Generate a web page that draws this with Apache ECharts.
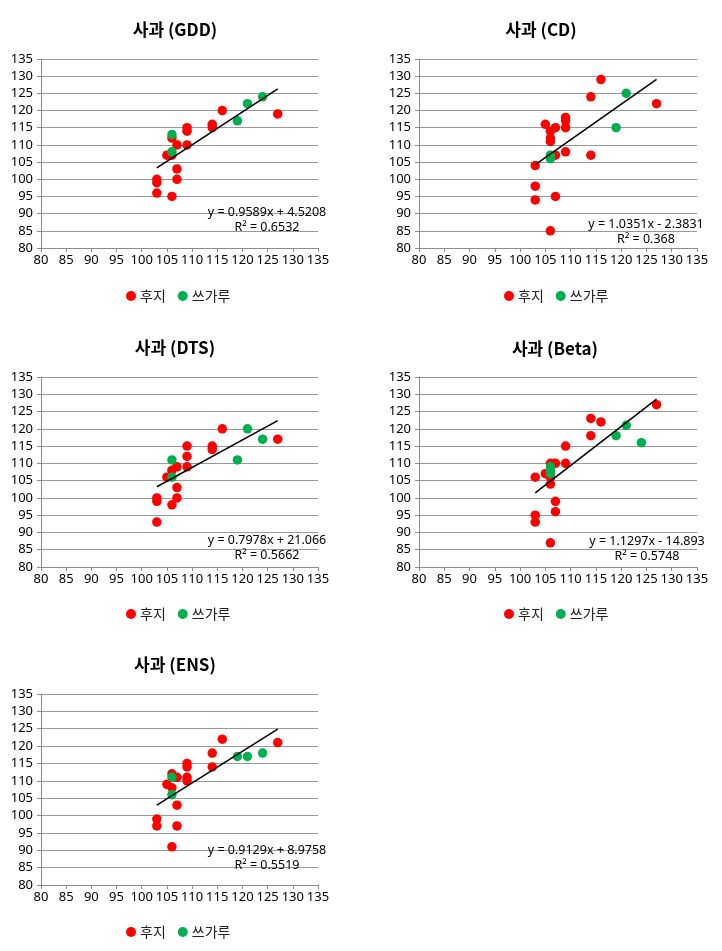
<!DOCTYPE html>
<html><head><meta charset="utf-8">
<script src="https://cdn.jsdelivr.net/npm/echarts@6/dist/echarts.min.js"></script>
<style>html,body{margin:0;padding:0;background:#fff}#c{width:722px;height:951px}</style>
</head><body><div id="c"></div>
<script>
// ---- Data ----
const panelTitles = ['사과 (GDD)', '사과 (CD)', '사과 (DTS)', '사과 (Beta)', '사과 (ENS)'];
const seriesNames = ['후지', '쓰가루'];
const axisTicks = [80, 85, 90, 95, 100, 105, 110, 115, 120, 125, 130, 135];

// GDD
const gddFujiX = [103, 103, 103, 105, 106, 106, 106, 107, 107, 107, 109, 109, 109, 114, 114, 116, 127];
const gddFujiY = [100, 99, 96, 107, 112, 107, 95, 110, 103, 100, 115, 114, 110, 116, 115, 120, 119];
const gddTsugX = [106, 106, 119, 121, 124];
const gddTsugY = [113, 108, 117, 122, 124];
const gddFit = [0.9589, 4.5208, 0.6532];

// CD
const cdFujiX = [103, 103, 103, 105, 106, 106, 106, 106, 107, 107, 107, 109, 109, 109, 109, 114, 114, 116, 127];
const cdFujiY = [104, 98, 94, 116, 114, 112, 111, 85, 115, 107, 95, 118, 117, 115, 108, 124, 107, 129, 122];
const cdTsugX = [106, 106, 119, 121];
const cdTsugY = [107, 106, 115, 125];
const cdFit = [1.0351, -2.3831, 0.368];

// DTS
const dtsFujiX = [103, 103, 103, 105, 106, 106, 107, 107, 107, 109, 109, 109, 114, 114, 116, 127];
const dtsFujiY = [100, 99, 93, 106, 108, 98, 109, 103, 100, 115, 112, 109, 115, 114, 120, 117];
const dtsTsugX = [106, 106, 119, 121, 124];
const dtsTsugY = [111, 106, 111, 120, 117];
const dtsFit = [0.7978, 21.066, 0.5662];

// Beta
const betaFujiX = [103, 103, 103, 105, 106, 106, 106, 106, 107, 107, 107, 109, 109, 114, 114, 116, 127];
const betaFujiY = [106, 95, 93, 107, 110, 106, 104, 87, 110, 99, 96, 115, 110, 123, 118, 122, 127];
const betaTsugX = [106, 106, 106, 119, 121, 124];
const betaTsugY = [109, 108, 107, 118, 121, 116];
const betaFit = [1.1297, -14.893, 0.5748];

// ENS
const ensFujiX = [103, 103, 105, 106, 106, 106, 107, 107, 107, 109, 109, 109, 109, 114, 114, 116, 127];
const ensFujiY = [99, 97, 109, 112, 108, 91, 111, 103, 97, 115, 114, 111, 110, 118, 114, 122, 121];
const ensTsugX = [106, 106, 119, 121, 124];
const ensTsugY = [111, 106, 117, 117, 118];
const ensFit = [0.9129, 8.9758, 0.5519];

const panelData = [
  [gddFujiX, gddFujiY, gddTsugX, gddTsugY, gddFit],
  [cdFujiX, cdFujiY, cdTsugX, cdTsugY, cdFit],
  [dtsFujiX, dtsFujiY, dtsTsugX, dtsTsugY, dtsFit],
  [betaFujiX, betaFujiY, betaTsugX, betaTsugY, betaFit],
  [ensFujiX, ensFujiY, ensTsugX, ensTsugY, ensFit]
];

// ---- Layout ----
const grids = [
  {left: 41, top: 59, width: 277, height: 189},
  {left: 419, top: 59, width: 278, height: 189},
  {left: 41, top: 377, width: 277, height: 190},
  {left: 419, top: 377, width: 278, height: 190},
  {left: 41, top: 694, width: 277, height: 191}
];
const titlePos = [[170, 16], [536, 16], [170, 334], [550, 335], [170, 651]];
const legendPos = [[175, 284], [553, 284], [175, 602], [553, 602], [175, 920]];
const eqPos = [[267, 220], [646, 232], [267, 548], [647, 549], [267, 858]];

const RED = '#ff0000', GREEN = '#00b050';
const numFont = 'Noto Sans';
const krFont = '"Noto Sans CJK KR", "Noto Sans", sans-serif';

const option = {
  animation: false,
  backgroundColor: '#fff',
  grid: grids.map(g => Object.assign({containLabel: false}, g)),
  title: panelData.map((p, i) => ({
    text: panelTitles[i],
    left: titlePos[i][0], top: titlePos[i][1],
    textAlign: 'center',
    textStyle: {fontFamily: krFont, fontSize: 17, fontWeight: 'bold', color: '#000'}
  })),
  legend: panelData.map((p, i) => ({
    data: seriesNames.map(n => ({name: n, icon: 'circle'})),
    left: legendPos[i][0] - 54, top: legendPos[i][1],
    itemWidth: 10, itemHeight: 10, itemGap: 12,
    selectedMode: false,
    textStyle: {fontFamily: krFont, fontSize: 14, color: '#222', padding: [0, 0, 0, -1]}
  })),
  xAxis: panelData.map((p, i) => ({
    type: 'value', gridIndex: i, min: axisTicks[0], max: axisTicks[axisTicks.length - 1], interval: 5,
    axisLine: {show: true, onZero: false, lineStyle: {color: '#8c8c8c', width: 1}},
    axisTick: {show: true, length: 4, lineStyle: {color: '#8c8c8c'}},
    splitLine: {show: false},
    axisLabel: {fontFamily: numFont, fontSize: 13, color: '#000', margin: 6}
  })),
  yAxis: panelData.map((p, i) => ({
    type: 'value', gridIndex: i, min: axisTicks[0], max: axisTicks[axisTicks.length - 1], interval: 5,
    axisLine: {show: true, lineStyle: {color: '#8c8c8c', width: 1}},
    axisTick: {show: true, length: 4, lineStyle: {color: '#8c8c8c'}},
    splitLine: {show: true, lineStyle: {color: '#999', width: 1}},
    axisLabel: {fontFamily: numFont, fontSize: 13, color: '#000', margin: 8}
  })),
  graphic: panelData.map((p, i) => {
    const f = p[4];
    const sign = f[1] < 0 ? 'x - ' : 'x + ';
    return {
      type: 'text', x: eqPos[i][0], y: eqPos[i][1], z: 100,
      style: {
        text: 'y = ' + f[0] + sign + Math.abs(f[1]) + '\nR² = ' + f[2],
        fontFamily: numFont, fontSize: 12.5, lineHeight: 15, fill: '#000',
        align: 'center', verticalAlign: 'middle'
      }
    };
  }),
  series: []
};

panelData.forEach((p, i) => {
  const [fx, fy, tx, ty, fit] = p;
  option.series.push({
    name: seriesNames[0], type: 'scatter', xAxisIndex: i, yAxisIndex: i,
    symbolSize: 9.5, itemStyle: {color: RED, opacity: 1},
    data: fx.map((x, k) => [x, fy[k]]), z: 3
  });
  option.series.push({
    name: seriesNames[1], type: 'scatter', xAxisIndex: i, yAxisIndex: i,
    symbolSize: 9.5, itemStyle: {color: GREEN, opacity: 1},
    data: tx.map((x, k) => [x, ty[k]]), z: 4
  });
  const allX = fx.concat(tx);
  const x0 = Math.min(...allX), x1 = Math.max(...allX);
  option.series.push({
    name: 'trend', type: 'line', xAxisIndex: i, yAxisIndex: i,
    symbol: 'none', silent: true, z: 5,
    lineStyle: {color: '#000', width: 1.5},
    data: [[x0, fit[0] * x0 + fit[1]], [x1, fit[0] * x1 + fit[1]]]
  });
});

const chart = echarts.init(document.getElementById('c'), null, {renderer: 'canvas'});
chart.setOption(option);
</script>
</body></html>
